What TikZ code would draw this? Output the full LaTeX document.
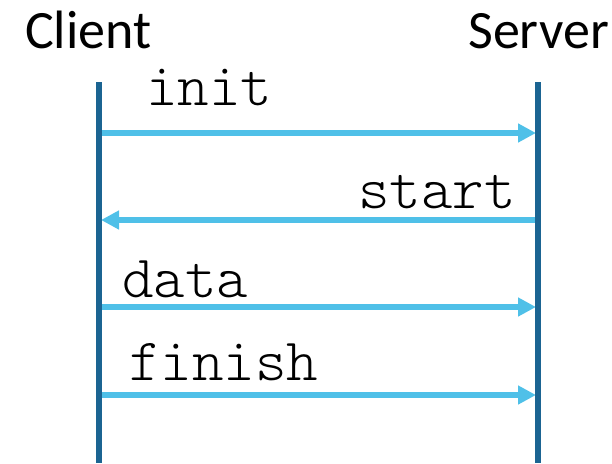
\documentclass[tikz,border=0pt]{standalone}
\usepackage{fontspec}
\setmainfont{Carlito}
\setmonofont{Latin Modern Mono Light}
\usetikzlibrary{arrows.meta,positioning}
\definecolor{lifeblue}{HTML}{1B6492}
\definecolor{msgblue}{HTML}{4FC0E8}

\begin{document}
\begin{tikzpicture}[x=1pt,y=-1pt,>={Triangle[length=18pt,width=18pt]},
		party/.style={font=\fontsize{54}{60}\selectfont,inner sep=0pt},
		msg/.style={font=\ttfamily\fontsize{60}{66}\selectfont,inner sep=0pt,anchor=base west},
		lifeline/.style={line width=6pt,draw=lifeblue},
		message/.style={->,line width=5.5pt,draw=msgblue}]
	\useasboundingbox (0,0) rectangle (612,463);
	\node[party,anchor=base west] (client) at (25,48) {Client};
	\node[party,anchor=base east] (server) at (609,48) {Server};
	% lifelines
	\coordinate (ctop) at (99,82);
	\coordinate (cbot) at (99,463);
	\coordinate (stop) at (538,82);
	\coordinate (sbot) at (538,463);
	% messages
	\foreach \y [count=\i] in {133,220,307,395} {
		\coordinate (c\i) at (99,\y);
		\coordinate (s\i) at (538,\y);
	}
	\draw[message,shorten >=2pt] (c1) -- (s1);
	\draw[message,shorten >=2pt] (s2) -- (c2);
	\draw[message,shorten >=2pt] (c3) -- (s3);
	\draw[message,shorten >=2pt] (c4) -- (s4);
	\path[lifeline] (ctop) -- (cbot) (stop) -- (sbot);
	\node[msg] (init) at (146,105) {init};
	\node[msg] (start) at (358,208) {start};
	\node[msg] (data) at (122,297) {data};
	\node[msg] (finish) at (129,380) {finish};
\end{tikzpicture}
\end{document}
